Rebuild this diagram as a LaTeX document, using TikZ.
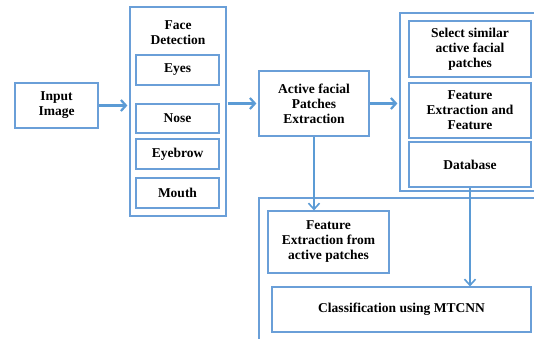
\documentclass[tikz,border=0pt]{standalone}
\usepackage{fontspec}
\setmainfont{Liberation Serif}
\usetikzlibrary{arrows.meta}
\definecolor{bl}{HTML}{5B9BD5}
\definecolor{bx}{HTML}{6A9FD8}
\tikzset{
  box/.style={draw=bx, line width=1.2pt, align=center, inner sep=0pt,
    font=\fontsize{13.5}{15}\selectfont\bfseries, text=black},
  harrow/.style={draw=bl, line width=2.6pt, -{Straight Barb[length=5pt,width=11pt,line width=2.2pt]}},
  varrow/.style={draw=bl, line width=1.6pt, -{Straight Barb[length=6pt,width=11pt,line width=1.6pt]}},
  lbl/.style={align=center, inner sep=0pt, font=\fontsize{13.5}{15}\selectfont\bfseries}
}
\begin{document}
\begin{tikzpicture}[x=1pt,y=-1pt]
\clip (0,0) rectangle (534,339);
\fill[white] (0,0) rectangle (534,339);
% left boxes
\node[box, minimum width=83pt, minimum height=45pt] (input) at (56.5,105.5) {Input\\Image};
\node[box, minimum width=96pt, minimum height=209pt] (fd) at (178,111.5) {};
\node[lbl] (fdlabel) at (178,33) {Face\\Detection};
\node[box, minimum width=83pt, minimum height=30pt] (eyes) at (177.5,70) {Eyes};
\node[box, minimum width=83pt, minimum height=29pt] (nose) at (177.5,118.5) {Nose};
\node[box, minimum width=83pt, minimum height=30pt] (eyebrow) at (177.5,154) {Eyebrow};
\node[box, minimum width=83pt, minimum height=30pt] (mouth) at (177.5,193) {Mouth};
% middle
\node[box, minimum width=110pt, minimum height=65pt] (active) at (314,103.5) {Active facial\\Patches\\Extraction};
% right group
\node[box, minimum width=145pt, minimum height=178pt] (rgroup) at (472.5,102) {};
\node[box, minimum width=122pt, minimum height=56pt] (select) at (470,49) {Select similar\\active facial\\patches};
\node[box, minimum width=122pt, minimum height=55pt] (featext) at (470,110.5) {Feature\\Extraction and\\Feature};
\node[box, minimum width=122pt, minimum height=45pt] (db) at (470,164.5) {Database};
% bottom group
\node[box, minimum width=286pt, minimum height=152pt] (bgroup) at (402,274) {};
\node[box, minimum width=121pt, minimum height=62pt] (fefrom) at (328.5,242) {Feature\\Extraction from\\active patches};
\node[box, minimum width=259pt, minimum height=45pt] (class) at (401.5,309.5) {Classification using MTCNN};
% arrows
\draw[harrow, shorten >=2pt] (input.east) -- (input.east -| fd.west);
\draw[harrow, shorten <=1pt, shorten >=2pt] (fd.east |- active.west) -- (active.west);
\draw[harrow, shorten >=2pt] (active.east) -- (active.east -| rgroup.west);
\draw[varrow] (active.south) -- (active.south |- fefrom.north);
\draw[varrow] (db.south) -- (db.south |- class.north);
\end{tikzpicture}
\end{document}
